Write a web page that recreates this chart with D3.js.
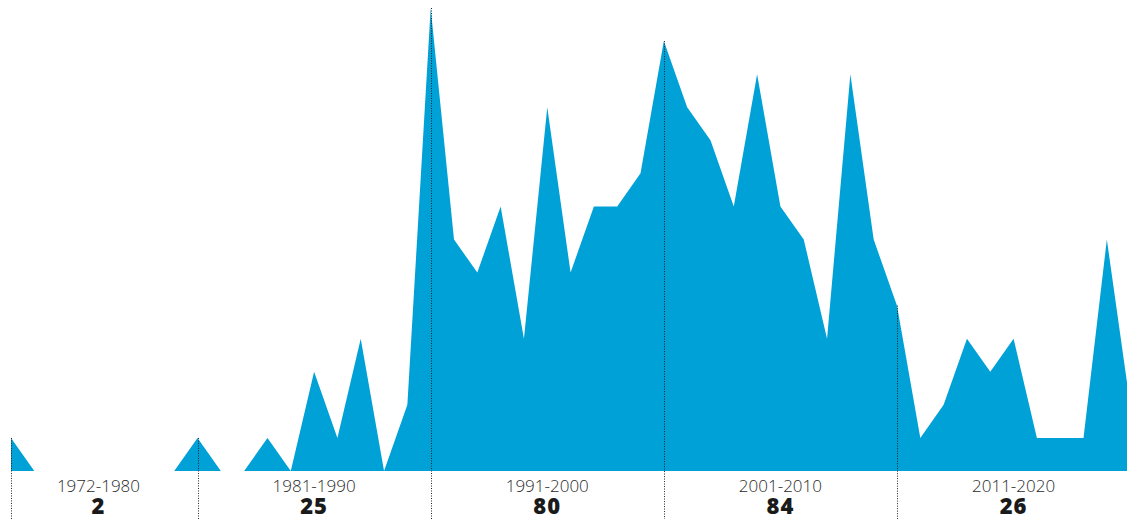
<!DOCTYPE html>
<html>
<head>
<meta charset="utf-8">
<script src="https://cdn.jsdelivr.net/npm/d3@7"></script>
<style>
	body { margin: 0; background: #fff; }
	svg { display: block; }
	text { font-family: 'Open Sans', sans-serif; }
</style>
</head>
<body>
<svg id="decade-chart" width="1127" height="519"></svg>
<script>
const years = d3.range(1972, 2021);
const counts = [
	1, 0, 0, 0, 0, 0, 0, 0, 1, // 1972-1980
	0, 0, 1, 0, 3, 1, 4, 0, 2, 14, // 1981-1990
	7, 6, 8, 4, 11, 6, 8, 8, 9, 13, // 1991-2000
	11, 10, 8, 12, 8, 7, 4, 12, 7, 5, // 2001-2010
	1, 2, 4, 3, 4, 1, 1, 1, 7, 2, // 2011-2020
];
const dividerYears = [1972, 1980, 1990, 2000, 2010];
const decadeLabels = ['1972-1980', '1981-1990', '1991-2000', '2001-2010', '2011-2020'];
const decadeTotals = [2, 25, 80, 84, 26];
const labelYears = [1975.75, 1985, 1995, 2005, 2015]; // where each label sits

const data = years.map((year, i) => ({ year, value: counts[i] }));

const svg = d3.select('svg[id=decade-chart]');

const x = d3.scaleLinear().domain([1972, 2010]).range([11, 897]);
const y = d3.scaleLinear().domain([0, 14]).range([471, 8]);

const area = d3
	.area()
	.x((d) => x(d.year))
	.y0(y(0))
	.y1((d) => y(d.value));

svg
	.append('path')
	.datum(data)
	.attr('fill', '#00a1d6')
	.attr('d', area);

// Dotted decade dividers
svg
	.selectAll('.divider')
	.data(dividerYears)
	.join('line')
	.attr('class', 'divider')
	.attr('x1', (yr) => Math.round(x(yr)) + 0.5)
	.attr('x2', (yr) => Math.round(x(yr)) + 0.5)
	.attr('y1', (yr) => y(counts[years.indexOf(yr)]))
	.attr('y2', 519)
	.attr('stroke', '#222')
	.attr('stroke-width', 1)
	.attr('stroke-dasharray', '1,1.5');

const labels = svg
	.selectAll('.decade')
	.data(decadeLabels)
	.join('g')
	.attr('class', 'decade')
	.attr('transform', (_, i) => 'translate(' + [x(labelYears[i]), 0] + ')');

labels
	.append('text')
	.attr('y', 492)
	.attr('text-anchor', 'middle')
	.attr('font-size', 17)
	.attr('font-weight', 300)
	.attr('fill', '#2a2a2a')
	.text((d) => d);

labels
	.append('text')
	.attr('y', 514)
	.attr('text-anchor', 'middle')
	.attr('font-size', 22)
	.attr('font-weight', 800)
	.attr('letter-spacing', 1)
	.attr('fill', '#1a1a1a')
	.text((_, i) => decadeTotals[i]);
</script>
</body>
</html>
